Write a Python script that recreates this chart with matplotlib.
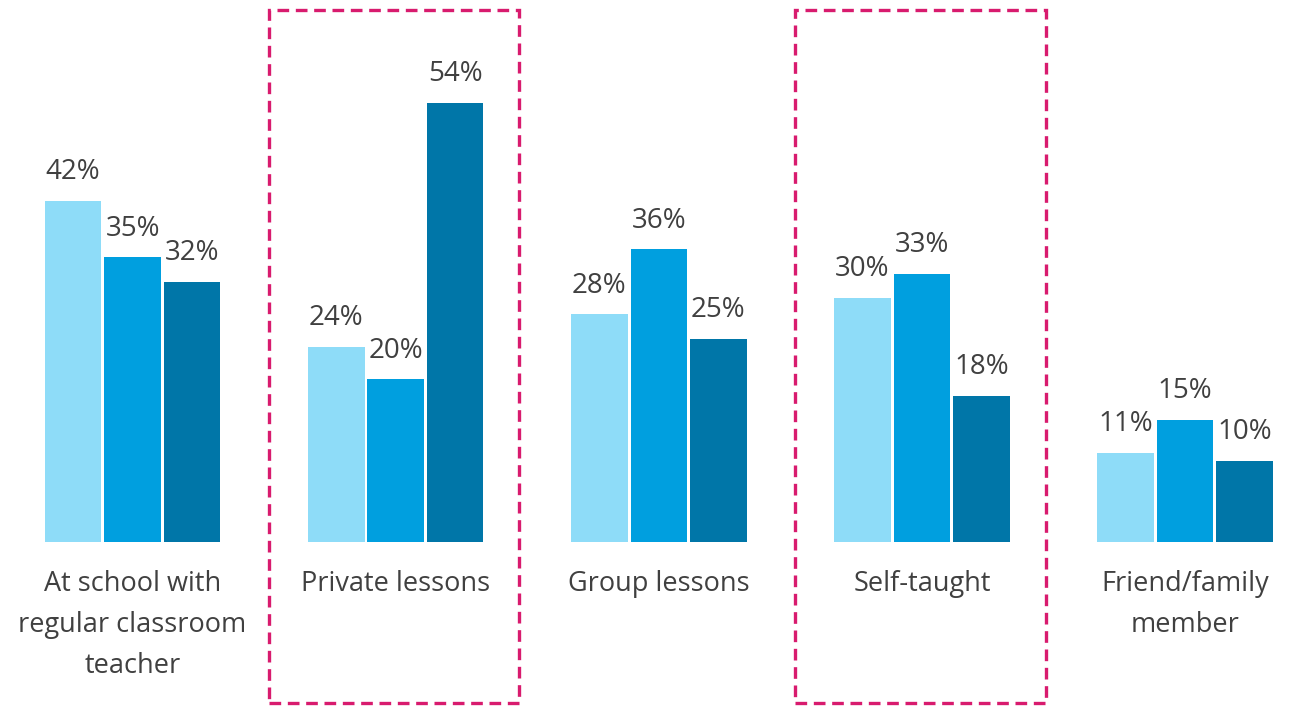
import matplotlib
matplotlib.use("Agg")
import matplotlib.pyplot as plt
from matplotlib.patches import Rectangle
import numpy as np

categories = ["At school with\nregular classroom\nteacher", "Private lessons",
              "Group lessons", "Self-taught", "Friend/family\nmember"]
series_a = [42, 24, 28, 30, 11]
series_b = [35, 20, 36, 33, 15]
series_c = [32, 54, 25, 18, 10]
highlighted = [1, 3]

colors = ["#8EDCF8", "#009FDF", "#0076A8"]
text_color = "#404040"
pink = "#D81B6E"

plt.rcParams['font.family'] = ['Open Sans', 'DejaVu Sans']

fig = plt.figure(figsize=(12.96, 7.07), dpi=100)
ax = fig.add_axes([0, 0, 1, 1])
ax.set_xlim(-0.504, 4.422)
ax.set_ylim(-20.3, 66.67)
ax.axis("off")

x = np.arange(len(categories))
width = 0.215
offset = 0.226
for i, (vals, col) in enumerate(zip([series_a, series_b, series_c], colors)):
    xs = x + (i - 1) * offset
    ax.bar(xs, vals, width=width, color=col, edgecolor="none")
    for xi, v in zip(xs, vals):
        ax.text(xi, v + 1.8, f"{v}%", ha="center", va="bottom",
                fontsize=20, color=text_color)

for xi, cat in zip(x, categories):
    ax.text(xi, -3.5, cat, ha="center", va="top", fontsize=19.5,
            color=text_color, linespacing=1.62)

for h in highlighted:
    rect = Rectangle((h - 0.482, -19.8), 0.952, 85.2, fill=False,
                     edgecolor=pink, linewidth=2.4, linestyle=(0, (3.5, 2)),
                     clip_on=False)
    ax.add_patch(rect)

fig.savefig("out.png", dpi=100)
